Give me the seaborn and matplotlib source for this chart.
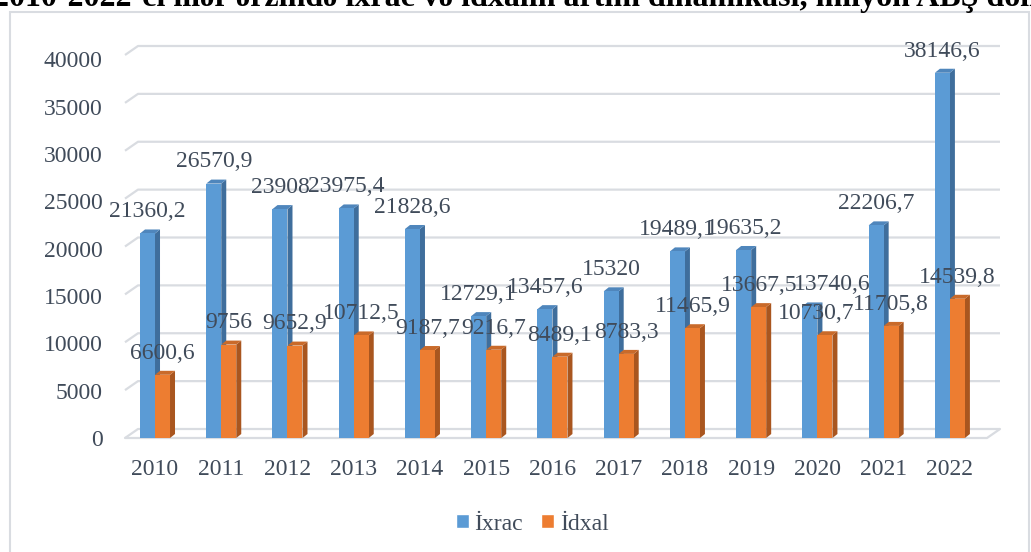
import matplotlib
matplotlib.use("Agg")
import matplotlib.pyplot as plt
from matplotlib.patches import Polygon, Rectangle
import seaborn as sns
import pandas as pd
import numpy as np

# data (million USD)
years = ["2010", "2011", "2012", "2013", "2014", "2015", "2016",
         "2017", "2018", "2019", "2020", "2021", "2022"]
ixrac = [21360.2, 26570.9, 23908, 23975.4, 21828.6, 12729.1, 13457.6,
         15320, 19489.1, 19635.2, 13740.6, 22206.7, 38146.6]
idxal = [6600.6, 9756, 9652.9, 10712.5, 9187.7, 9216.7, 8489.1,
         8783.3, 11465.9, 13667.5, 10730.7, 11705.8, 14539.8]
series = ["İxrac", "İdxal"]
y_ticks = list(range(0, 40001, 5000))
title = "2010-2022-ci illər ərzində ixrac və idxalın artım dinamikası, milyon ABŞ dolları"

front = {"İxrac": "#5B9BD5", "İdxal": "#ED7D31"}
side = {"İxrac": "#3F6E9C", "İdxal": "#A9561F"}
top = {"İxrac": "#4F86BC", "İdxal": "#C96A2A"}
text_c = "#404B5A"
grid_c = "#D9DCE1"
# hand-moved data labels in the source chart (series, year) -> points
label_nudge = {("İxrac", "2020"): 16, ("İdxal", "2020"): -6}

df = pd.DataFrame({
    "year": years * 2,
    "value": ixrac + idxal,
    "series": [series[0]] * len(years) + [series[1]] * len(years),
})

sns.set_theme(style="white")
plt.rcParams["font.family"] = ["Liberation Serif", "DejaVu Serif"]

W, H = 1031, 552
fig = plt.figure(figsize=(W / 100, H / 100), dpi=100)
ax = fig.add_axes([125 / W, 1 - 438 / H, (987 - 125) / W, 383 / H])

sns.barplot(data=df, x="year", y="value", hue="series", palette=front,
            width=0.453, saturation=1, ax=ax, zorder=3, edgecolor="none",
            linewidth=0)
ax.set_xlim(-0.453, 12.56)
ax.set_ylim(0, 40000)
ax.set_yticks(y_ticks)
ax.set_yticklabels([])
ax.set_xlabel("")
ax.set_ylabel("")
ax.tick_params(axis="both", length=0, labelsize=17, colors=text_c)
ax.tick_params(axis="x", pad=15)
for s in ax.spines.values():
    s.set_visible(False)
ax.legend_.remove()

# value axis labels sit on the front plane, a little lower than the bar scale
for t in ax.get_yticks():
    ax.annotate(f"{t:g}", xy=(0, t), xycoords=("axes fraction", "data"),
                xytext=(-16, -3.0 * t / 40000), textcoords="offset points",
                ha="right", va="center_baseline", fontsize=17, color=text_c)

fig.canvas.draw()
to_disp = ax.transData.transform
to_data = ax.transData.inverted().transform
dx, dy = 5, 4        # bar depth in pixels
gx, gy = 13, 9       # back wall offset in pixels


def poly(points_disp, color, z):
    p = Polygon(to_data(np.array(points_disp)), closed=True, facecolor=color,
                edgecolor="none", zorder=z, clip_on=False)
    ax.add_patch(p)


# 3d-ish sides and tops of the bars
for cont, name in zip(ax.containers, series):
    for bar in cont:
        x0, x1 = bar.get_x(), bar.get_x() + bar.get_width()
        h = bar.get_height()
        a = to_disp((x1, 0))
        b = to_disp((x1, h))
        c = to_disp((x0, h))
        poly([a, b, b + [dx, dy], a + [dx, dy]], side[name], 2.5)
        poly([c, b, b + [dx, dy], c + [dx, dy]], top[name], 2.5)
    labels = [f"{v:g}".replace(".", ",") for v in cont.datavalues]
    texts = ax.bar_label(cont, labels=labels, padding=8, fontsize=17,
                         color=text_c)
    for yr, t in zip(years, texts):
        t.set_zorder(6)
        nx = label_nudge.get((name, yr), 0)
        if nx:
            x, y = t.xyann
            t.xyann = (x + nx, y)

# gridlines on the back wall, with a slanted part on the left side wall
xl, xr = ax.get_xlim()
for t in y_ticks:
    p0 = to_disp((xl, t))
    p1 = p0 + [gx, gy]
    p2 = to_disp((xr, t)) + [gx, gy]
    pts = to_data(np.array([p0, p1, p2]))
    ax.plot(pts[:, 0], pts[:, 1], color=grid_c, lw=1.6, zorder=0.5,
            clip_on=False, solid_capstyle="butt")
# front edge of the floor
f0, f1 = to_disp((xl, 0)), to_disp((xr, 0))
pts = to_data(np.array([f0, f1, f1 + [gx, gy]]))
ax.plot(pts[:, 0], pts[:, 1], color=grid_c, lw=1.6, zorder=0.5, clip_on=False)

handles = [Rectangle((0, 0), 1, 1, facecolor=front[s]) for s in series]
fig.legend(handles, series, loc="center", bbox_to_anchor=(532 / W, 1 - 524 / H),
           ncol=2, frameon=False, fontsize=17, labelcolor=text_c,
           handlelength=0.55, handleheight=0.55, handletextpad=0.25,
           columnspacing=0.75)

# outer chart frame
fig.patches.append(Rectangle((9.5 / W, -0.02), (1029 - 9.5) / W, 1.02 - 12 / H,
                             transform=fig.transFigure, fill=False,
                             edgecolor=grid_c, lw=1.5))

# title, cut off at the top edge as in the source image
fig.text(-7 / W, 1 - 6 / H, title, ha="left", va="baseline", fontsize=23,
         fontweight="bold", color="black")

fig.savefig("out.png", dpi=100)
